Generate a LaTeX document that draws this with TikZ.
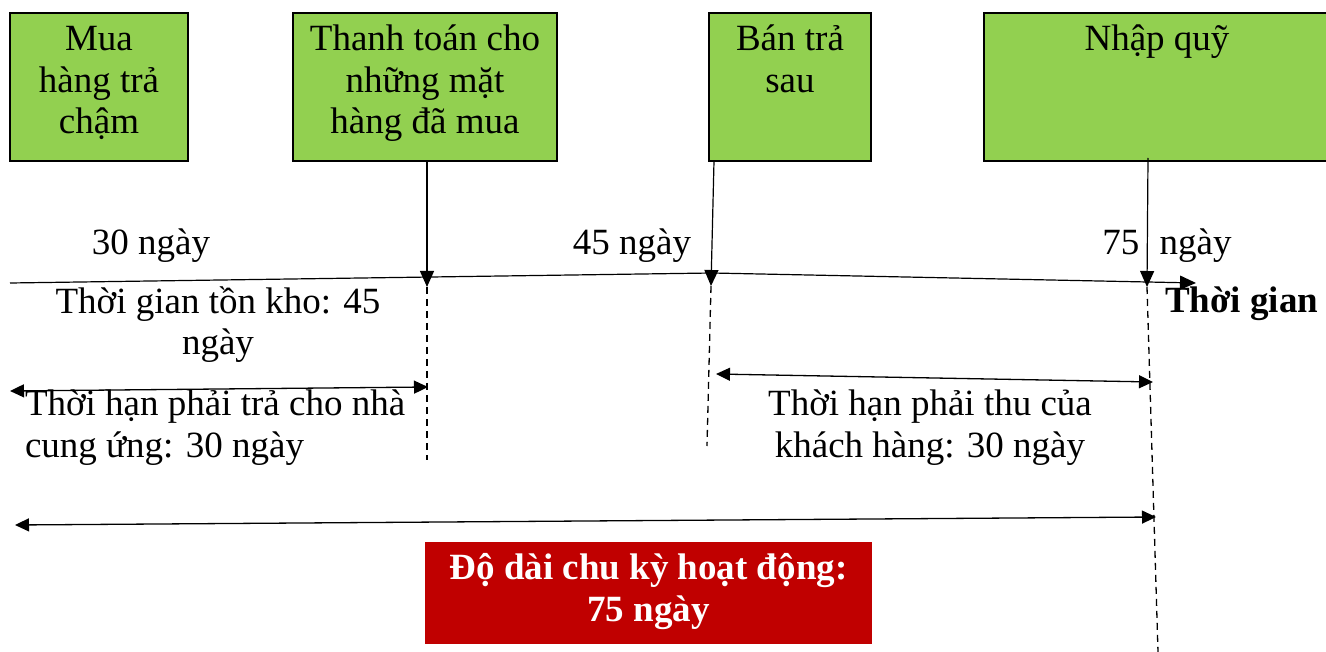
\documentclass[tikz,border=0pt]{standalone}
\usepackage{fontspec}
\setmainfont{Liberation Serif}
\usetikzlibrary{arrows.meta}
\definecolor{boxgreen}{HTML}{92D050}
\definecolor{boxred}{HTML}{C00000}
\begin{document}
\begin{tikzpicture}[x=1pt,y=-1pt,
  every node/.style={inner sep=0pt, outer sep=0pt},
  txt/.style={font=\fontsize{37}{41.5}\selectfont, anchor=base},
  greenbox/.style={draw=black, line width=2pt, fill=boxgreen},
  redbox/.style={fill=boxred},
  conn/.style={line width=1.2pt, -{Triangle[length=16pt,width=14pt]}},
  twoway/.style={line width=1.3pt, {Triangle[length=14pt,width=13pt]}-{Triangle[length=14pt,width=13pt]}},
  guide/.style={line width=1.3pt, dash pattern=on 7pt off 5pt}]
\useasboundingbox (0,0) rectangle (1326,652);

% event boxes
\node[greenbox, minimum width=178pt, minimum height=148pt] (b1) at (99,87) {};
\node[greenbox, minimum width=264pt, minimum height=148pt] (b2) at (425,87) {};
\node[greenbox, minimum width=162pt, minimum height=148pt] (b3) at (790,87) {};
\node[greenbox, minimum width=346pt, minimum height=148pt] (b4) at (1157,87) {};
% multi-line text: base anchor sits on the last line
\node[txt, align=center] (t1) at (99,134) {Mua\\hàng trả\\chậm};
\node[txt, align=center] (t2) at (425,134) {Thanh toán cho\\những mặt\\hàng đã mua};
\node[txt, align=center] (t3) at (790,92.5) {Bán trả\\sau};
\node[txt, align=center] (t4) at (1157,51) {Nhập quỹ};

% time axis
\coordinate (ax0) at (10,283);
\coordinate (ax1) at (712,273);
\coordinate (ax2) at (1196,283);
\draw[conn] (ax0) -- (ax1) -- (ax2);
\node[txt, anchor=base west, font=\fontsize{37}{41.5}\selectfont\bfseries] (tg) at (1165,313) {Thời gian};

% day marks on the axis
\node[txt] (d30) at (151,255) {30 ngày};
\node[txt] (d45) at (632,255) {45 ngày};
\node[txt] (d75) at (1167,255) {75\hspace{0.3em} ngày};

% event arrows down to the axis
\coordinate (p1) at (427,287);
\coordinate (p2) at (711,286);
\coordinate (p3) at (1147,287);
\coordinate (s2) at (714,161);
\coordinate (s3) at (1148,158);
\draw[conn] (b2.south -| p1) -- (p1);
\draw[conn] (s2) -- (p2);
\draw[conn] (s3) -- (p3);

% dashed guides
\coordinate (g1) at (427,460);
\coordinate (g2) at (707,446);
\coordinate (g3) at (1158,652);
\draw[guide] (p1) -- (g1);
\draw[guide] (p2) -- (g2);
\draw[guide] (p3) -- (g3);

% period spans
\coordinate (l1) at (10,391);
\coordinate (r1) at (428,387);
\coordinate (l2) at (716,374);
\coordinate (r2) at (1153,382);
\coordinate (l3) at (15,525);
\coordinate (r3) at (1156,517);
\draw[twoway] (l1) -- (r1);
\draw[twoway] (l2) -- (r2);
\draw[twoway] (l3) -- (r3);

\node[txt, align=center] (inv) at (218,355) {Thời gian tồn kho: 45\\ngày};
\node[txt, anchor=base west, align=left] (pay) at (25,457) {Thời hạn phải trả cho nhà\\cung ứng: 30 ngày};
\node[txt, align=center] (rec) at (930,457) {Thời hạn phải thu của\\khách hàng: 30 ngày};

% operating cycle
\node[redbox, minimum width=447pt, minimum height=102pt] (cyc) at (648.5,593) {};
\node[txt, align=center, text=white, font=\fontsize{37}{41.5}\selectfont\bfseries] (cyct) at (648.5,621) {Độ dài chu kỳ hoạt động:\\75 ngày};
\end{tikzpicture}
\end{document}
